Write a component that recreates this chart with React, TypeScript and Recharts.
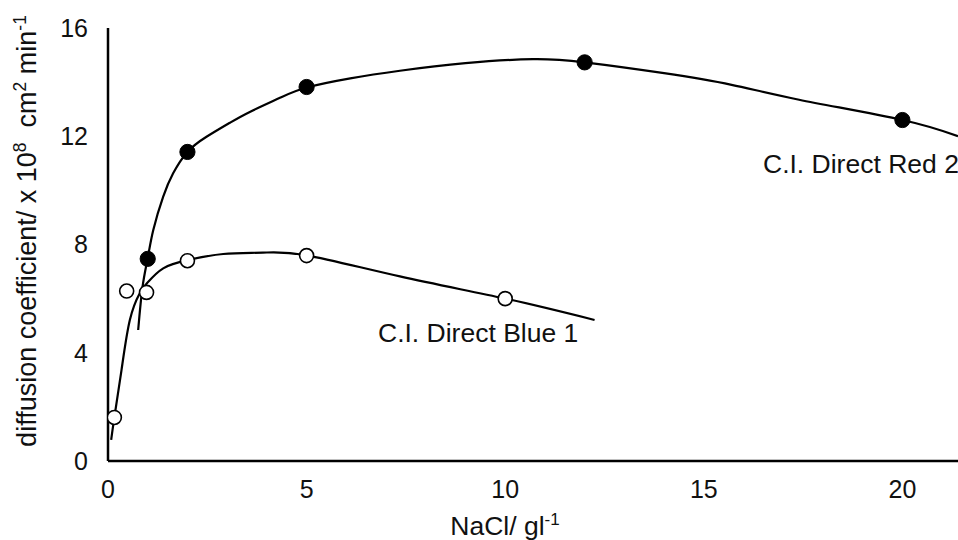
import React from 'react';
import { ComposedChart, Line, Scatter, XAxis, YAxis, Customized } from 'recharts';

// Fitted curve: C.I. Direct Red 2
const redCurveX = [0.76, 0.87, 1.0, 1.14, 1.39, 1.64, 2.0, 2.48, 3.07, 3.57, 4.33, 5.0, 6.1, 7.35, 9.0, 10.7, 12.0, 14.0, 15.7, 17.4, 20.0, 21.4];
const redCurveY = [4.84, 6.44, 7.5, 8.54, 9.77, 10.63, 11.42, 11.98, 12.5, 12.9, 13.42, 13.8, 14.14, 14.42, 14.7, 14.85, 14.73, 14.33, 13.9, 13.35, 12.6, 12.0];
// Fitted curve: C.I. Direct Blue 1
const blueCurveX = [0.08, 0.16, 0.34, 0.55, 0.8, 1.0, 1.39, 2.0, 2.9, 3.9, 5.0, 7.35, 10.0, 12.25];
const blueCurveY = [0.78, 1.61, 3.36, 5.21, 6.2, 6.6, 7.12, 7.42, 7.65, 7.7, 7.6, 6.82, 6.0, 5.21];
// Measured points
const redPointX = [1, 2, 5, 12, 20];
const redPointY = [7.47, 11.42, 13.82, 14.73, 12.6];
const bluePointX = [0.16, 0.47, 0.97, 2, 5, 10];
const bluePointY = [1.61, 6.28, 6.23, 7.4, 7.59, 6.0];

const xTicks = [0, 5, 10, 15, 20];
const yTicks = [0, 4, 8, 12, 16];
const redName = 'C.I. Direct Red 2';
const blueName = 'C.I. Direct Blue 1';

const zip = (xs: number[], ys: number[]) => xs.map((x, i) => ({ x, y: ys[i] }));
const redCurve = zip(redCurveX, redCurveY);
const blueCurve = zip(blueCurveX, blueCurveY);
const redPoints = zip(redPointX, redPointY);
const bluePoints = zip(bluePointX, bluePointY);

const FONT = '"Liberation Sans", Arial, sans-serif';

const FilledDot = (p: any) => <circle cx={p.cx} cy={p.cy} r={7.6} fill="#000" stroke="#000" strokeWidth={1} />;
const OpenDot = (p: any) => <circle cx={p.cx} cy={p.cy} r={7} fill="#fff" stroke="#000" strokeWidth={1.6} />;

const Texts = () => (
  <g fontFamily={FONT} fill="#111" style={{ whiteSpace: 'pre' }}>
    <text x={763} y={173} fontSize={26.5}>{redName}</text>
    <text x={378} y={342} fontSize={26.5}>{blueName}</text>
    <text x={505} y={535} fontSize={26.5} textAnchor="middle">
      NaCl/ gl<tspan dy={-10} fontSize={17}>-1</tspan>
    </text>
    <text x={36} y={231} fontSize={27} textAnchor="middle" transform="rotate(-90 36 231)" style={{ whiteSpace: 'pre' }}>
      {'diffusion coefficient/ x 10'}<tspan dy={-10} fontSize={17.5}>8</tspan>
      <tspan dy={10}>{'  cm'}</tspan>
      <tspan dy={-10} fontSize={17.5}>2</tspan>
      <tspan dy={10}>{' min'}</tspan>
      <tspan dy={-10} fontSize={17.5}>-1</tspan>
    </text>
  </g>
);

export default function App() {
  return (
    <div style={{ position: 'absolute', left: 0, top: 0, background: '#fff' }}>
      <ComposedChart width={958} height={540} margin={{ top: 28, right: 0, left: 0, bottom: 0 }}>
        <XAxis
          type="number"
          dataKey="x"
          domain={[0, 21.4]}
          ticks={xTicks}
          allowDataOverflow
          tickLine={false}
          tickSize={0}
          tickMargin={19}
          axisLine={{ stroke: '#000', strokeWidth: 2.5 }}
          tick={{ fill: '#111', fontSize: 25, fontFamily: FONT }}
          height={79}
        />
        <YAxis
          type="number"
          dataKey="y"
          domain={[0, 16]}
          ticks={yTicks}
          tickLine={false}
          tickSize={0}
          tickMargin={20}
          width={108}
          axisLine={{ stroke: '#000', strokeWidth: 2.5 }}
          tick={{ fill: '#111', fontSize: 25, fontFamily: FONT }}
        />
        <Line data={redCurve} dataKey="y" type="natural" stroke="#000" strokeWidth={2.2} dot={false} activeDot={false} isAnimationActive={false} />
        <Line data={blueCurve} dataKey="y" type="natural" stroke="#000" strokeWidth={2.2} dot={false} activeDot={false} isAnimationActive={false} />
        <Scatter data={bluePoints} dataKey="y" shape={OpenDot} isAnimationActive={false} />
        <Scatter data={redPoints} dataKey="y" shape={FilledDot} isAnimationActive={false} />
        <Customized component={Texts} />
      </ComposedChart>
    </div>
  );
}
